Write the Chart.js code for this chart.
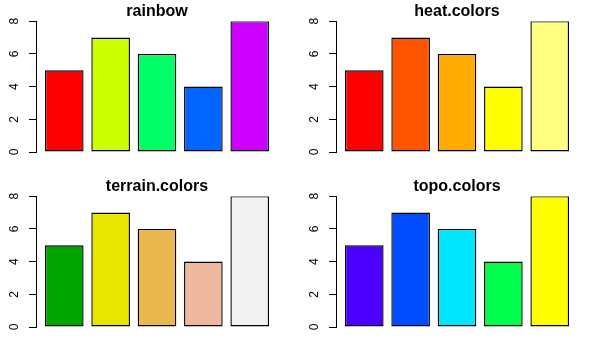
<!DOCTYPE html>
<html>
<head>
<meta charset="utf-8">
<script src="https://cdn.jsdelivr.net/npm/chart.js@4/dist/chart.umd.min.js"></script>
<style>
  html, body { margin: 0; padding: 0; background: #fff; }
  #grid { position: relative; width: 600px; height: 350px; }
  .cell { position: absolute; width: 300px; height: 175px; }
</style>
</head>
<body>
<div id="grid">
  <div class="cell" style="left:0;top:0"><canvas id="c0"></canvas></div>
  <div class="cell" style="left:300px;top:0"><canvas id="c1"></canvas></div>
  <div class="cell" style="left:0;top:175px"><canvas id="c2"></canvas></div>
  <div class="cell" style="left:300px;top:175px"><canvas id="c3"></canvas></div>
</div>
<script>
// bar heights (same vector in every panel)
const values = [5, 7, 6, 4, 8];
const yTicks = [0, 2, 4, 6, 8];

// palette names and the 5 colours each one gives
const paletteNames = ['rainbow', 'heat.colors', 'terrain.colors', 'topo.colors'];
const rainbowCols = ['#FF0000', '#CCFF00', '#00FF66', '#0066FF', '#CC00FF'];
const heatCols = ['#FF0000', '#FF5500', '#FFAA00', '#FFFF00', '#FFFF80'];
const terrainCols = ['#00A600', '#E6E600', '#EAB64E', '#EEB99F', '#F2F2F2'];
const topoCols = ['#4C00FF', '#004CFF', '#00E5FF', '#00FF4D', '#FFFF00'];
const palettes = [rainbowCols, heatCols, terrainCols, topoCols];

const FONT = '"Liberation Sans", Arial, sans-serif';
Chart.defaults.font.family = FONT;
Chart.defaults.color = '#000';

function makePanel(canvasId, title, cols) {
  const canvas = document.getElementById(canvasId);
  if (!canvas) return;
  new Chart(canvas, {
    type: 'bar',
    data: {
      datasets: [{
        data: values.map((v, i) => ({ x: i, y: v })),
        backgroundColor: cols,
        borderColor: '#000',
        borderWidth: 1.4,
        borderSkipped: false,
        barPercentage: 1 / 1.2,
        categoryPercentage: 1
      }]
    },
    options: {
      responsive: true,
      maintainAspectRatio: false,
      animation: false,
      events: [],
      layout: { padding: { left: 0, right: 22, top: 0, bottom: 23 } },
      plugins: {
        legend: { display: false },
        tooltip: { enabled: false },
        title: {
          display: true,
          text: title,
          fullSize: false,
          color: '#000',
          font: { size: 16, weight: 'bold', family: FONT },
          padding: { top: 2, bottom: 0 }
        }
      },
      scales: {
        x: {
          type: 'linear',
          display: false,
          offset: false,
          grid: { offset: false },
          min: -0.61,
          max: values.length - 1 + 0.61,
          afterBuildTicks: s => { s.ticks = values.map((v, i) => ({ value: i })); }
        },
        y: {
          min: 0,
          max: 8,
          afterBuildTicks: s => { s.ticks = yTicks.map(v => ({ value: v })); },
          afterFit: s => { s.width = 36; },
          border: { display: true, color: '#000', width: 1 },
          grid: { drawOnChartArea: false, color: '#000', tickLength: 7, tickWidth: 1 },
          ticks: {
            color: '#000',
            font: { size: 12, family: FONT },
            minRotation: 90,
            maxRotation: 90,
            crossAlign: 'center',
            padding: 11
          }
        }
      }
    }
  });
}

paletteNames.forEach((name, k) => makePanel('c' + k, name, palettes[k]));
</script>
</body>
</html>
